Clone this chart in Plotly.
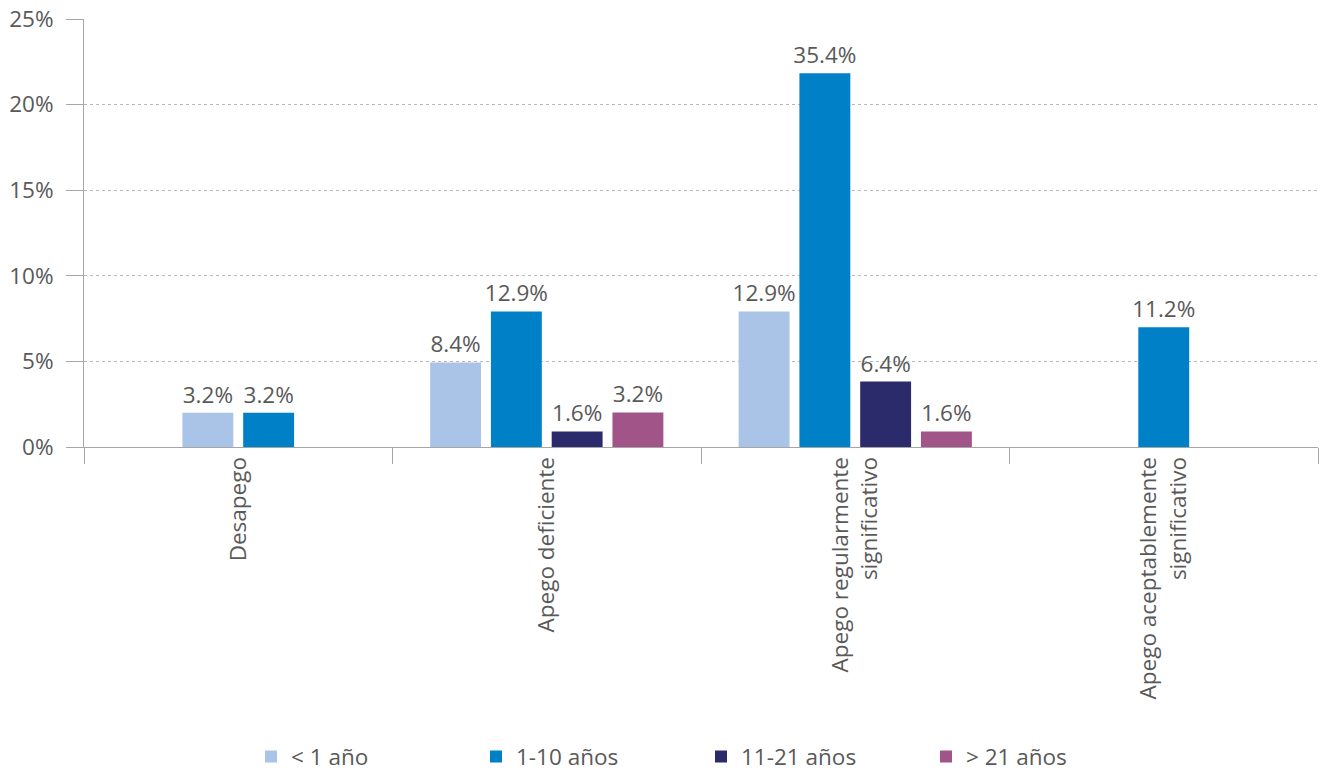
import plotly.graph_objects as go

categories = ["Desapego", "Apego deficiente", "Apego regularmente<br>significativo",
              "Apego aceptablemente<br>significativo"]
series_names = ["< 1 año", "1-10 años", "11-21 años", "> 21 años"]

# bar heights as drawn (percent of axis)
h_lt1 = [2.0, 4.94, 7.92, None]
h_1_10 = [2.0, 7.92, 21.83, 6.99]
h_11_21 = [None, 0.91, 3.82, None]
h_gt21 = [None, 2.02, 0.91, None]

# data labels shown on bars
lab_lt1 = ["3.2%", "8.4%", "12.9%", None]
lab_1_10 = ["3.2%", "12.9%", "35.4%", "11.2%"]
lab_11_21 = [None, "1.6%", "6.4%", None]
lab_gt21 = [None, "3.2%", "1.6%", None]

colors = ["#A9C4E6", "#0080C6", "#2B2A6B", "#A05488"]

heights = [h_lt1, h_1_10, h_11_21, h_gt21]
labels = [lab_lt1, lab_1_10, lab_11_21, lab_gt21]

FONT = "Open Sans"
FS = 22.5
GRAY = "#595959"
AXIS = "#A6A6A6"
BAR_W = 0.165
STEP = 0.197

# compute offsets so present bars are centred in each category
offsets = [[None] * len(categories) for _ in heights]
for ci in range(len(categories)):
    present = [si for si in range(len(heights)) if heights[si][ci] is not None]
    n = len(present)
    for k, si in enumerate(present):
        centre = (k - (n - 1) / 2) * STEP
        offsets[si][ci] = centre - BAR_W / 2

fig = go.Figure()
for si, name in enumerate(series_names):
    xs, ys, ts, offs = [], [], [], []
    for ci, cat in enumerate(categories):
        if heights[si][ci] is None:
            continue
        xs.append(cat)
        ys.append(heights[si][ci])
        ts.append(labels[si][ci])
        offs.append(offsets[si][ci])
    fig.add_trace(go.Bar(
        x=xs, y=ys, name=name, text=ts, textposition="outside",
        textfont=dict(family=FONT, size=FS, color=GRAY), constraintext="none",
        offset=offs, width=BAR_W, marker=dict(color=colors[si], line=dict(width=0)),
        cliponaxis=False,
    ))

fig.update_layout(
    width=1320, height=771,
    margin=dict(l=84, r=2, t=19, b=324, autoexpand=False),
    paper_bgcolor="white", plot_bgcolor="white",
    barmode="overlay",
    font=dict(family=FONT, size=FS, color=GRAY),
    showlegend=True,
    legend=dict(orientation="h", x=0.5, xanchor="center", y=-0.724, yanchor="middle",
                font=dict(family=FONT, size=FS, color=GRAY), entrywidth=180,
                traceorder="normal"),
    xaxis=dict(type="category", categoryorder="array", categoryarray=categories,
               range=[-0.5, 3.5], tickson="boundaries", ticks="outside", ticklen=16,
               tickcolor=AXIS, tickwidth=1, tickangle=-90, automargin=False,
               showline=True, linecolor=AXIS, linewidth=1, showgrid=False,
               tickfont=dict(family=FONT, size=FS, color=GRAY)),
    yaxis=dict(range=[0, 25], dtick=5, ticksuffix="%", ticks="outside", ticklen=17,
               tickcolor=AXIS, showline=True, linecolor=AXIS, linewidth=1,
               showgrid=True, gridcolor="#B8B8B8", griddash="dot", gridwidth=1,
               zeroline=False, ticklabelstandoff=8, automargin=False,
               ticklabeloverflow="allow",
               tickfont=dict(family=FONT, size=FS, color=GRAY)),
)

fig.write_html(
    "out.html",
    config={"displayModeBar": False},
    post_script="document.body.style.margin='0';document.body.style.overflow='hidden';",
)
